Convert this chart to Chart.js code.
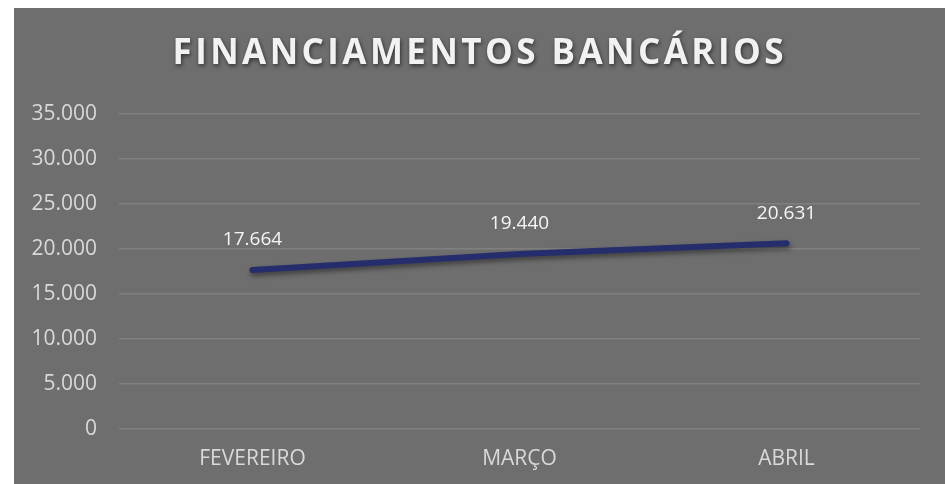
<!DOCTYPE html>
<html>
<head>
<meta charset="utf-8">
<script src="https://cdn.jsdelivr.net/npm/chart.js@4/dist/chart.umd.min.js"></script>
<style>
html,body{margin:0;padding:0;background:#ffffff;}
#wrap{position:absolute;left:14px;top:8px;width:931px;height:476px;background:#6e6e6e;}
canvas{display:block;}
</style>
</head>
<body>
<div id="wrap"><canvas id="c" width="931" height="476"></canvas></div>
<script>
const chartTitle = "FINANCIAMENTOS BANCÁRIOS";
const categories = ["FEVEREIRO", "MARÇO", "ABRIL"];
const seriesName = "Financiamentos";
const seriesValues = [17664, 19440, 20631];
const yTicks = [0, 5000, 10000, 15000, 20000, 25000, 30000, 35000];

const fmt = v => v.toLocaleString('pt-BR');
const FONT = "'Open Sans', sans-serif";

const titlePlugin = {
  id: 'shadowTitle',
  afterDraw(chart) {
    const ctx = chart.ctx;
    ctx.save();
    ctx.font = "bold 35px " + FONT;
    ctx.textAlign = 'center';
    ctx.textBaseline = 'middle';
    const target = 611;
    ctx.letterSpacing = '0px';
    const w = ctx.measureText(chartTitle).width;
    const sp = Math.max(0, (target - w) / (chartTitle.length - 1));
    ctx.letterSpacing = sp.toFixed(2) + 'px';
    ctx.shadowColor = 'rgba(0,0,0,0.55)';
    ctx.shadowBlur = 4;
    ctx.shadowOffsetX = 1;
    ctx.shadowOffsetY = 2;
    ctx.fillStyle = '#f2f2f2';
    ctx.fillText(chartTitle, 464 + sp / 2, 46);
    ctx.restore();
  }
};

const lineShadow = {
  id: 'lineShadow',
  beforeDatasetDraw(chart) {
    const ctx = chart.ctx;
    ctx.save();
    ctx.shadowColor = 'rgba(0,0,0,0.45)';
    ctx.shadowBlur = 5;
    ctx.shadowOffsetX = 1;
    ctx.shadowOffsetY = 3;
  },
  afterDatasetDraw(chart) {
    chart.ctx.restore();
  }
};

const dataLabels = {
  id: 'dataLabels',
  afterDatasetsDraw(chart) {
    const ctx = chart.ctx;
    const meta = chart.getDatasetMeta(0);
    ctx.save();
    ctx.font = "19px " + FONT;
    ctx.fillStyle = '#f5f5f5';
    ctx.textAlign = 'center';
    ctx.textBaseline = 'middle';
    meta.data.forEach((pt, i) => {
      ctx.fillText(fmt(seriesValues[i]), pt.x, pt.y - 30);
    });
    ctx.restore();
  }
};

new Chart(document.getElementById('c'), {
  type: 'line',
  data: {
    labels: categories,
    datasets: [{
      label: seriesName,
      data: seriesValues,
      borderColor: '#262d6c',
      borderWidth: 6,
      borderCapStyle: 'round',
      pointRadius: 0,
      pointHoverRadius: 0,
      tension: 0,
      fill: false
    }]
  },
  options: {
    responsive: false,
    animation: false,
    layout: { padding: { top: 106, right: 25, bottom: 0, left: 0 } },
    plugins: {
      legend: { display: false },
      title: { display: false },
      tooltip: { enabled: false }
    },
    scales: {
      x: {
        offset: true,
        grid: { display: false, drawTicks: false },
        border: { display: false },
        ticks: { color: '#d9d9d9', font: { family: FONT, size: 21 }, padding: 17 },
        afterFit(s) { s.height = 55; }
      },
      y: {
        min: 0,
        max: 35000,
        afterBuildTicks(s) { s.ticks = yTicks.map(v => ({ value: v })); },
        grid: { color: '#808080', lineWidth: 1.5, drawTicks: false },
        border: { display: false },
        ticks: {
          color: '#d9d9d9',
          font: { family: FONT, size: 21 },
          padding: 22,
          callback: v => fmt(v)
        },
        afterFit(s) { s.width = 105; }
      }
    }
  },
  plugins: [lineShadow, dataLabels, titlePlugin]
});
</script>
</body>
</html>
